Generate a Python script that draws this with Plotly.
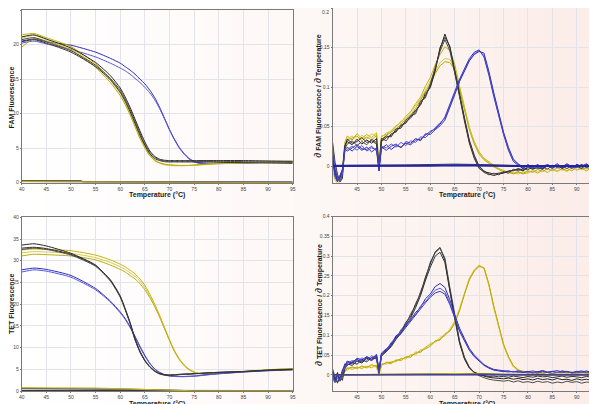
import plotly.graph_objects as go

# ---------------- data ----------------
# melt-curve temperature grid (°C)
T_MELT = [40, 42.5, 45, 50, 55, 58, 60, 61, 62, 63, 64, 65, 66, 67, 68, 69, 70,
          71, 72, 73, 74, 75, 76, 78, 80, 85, 90, 95]

FAM_BLACK = [
    [21.1, 21.4, 20.8, 19.5, 17.4, 15.5, 13.7, 12.4, 10.9, 9.2, 7.5, 5.9, 4.6, 3.8, 3.4, 3.25, 3.2,
     3.2, 3.2, 3.2, 3.2, 3.2, 3.2, 3.2, 3.2, 3.2, 3.15, 3.1],
    [20.7, 21.0, 20.4, 19.1, 17.0, 15.1, 13.4, 12.1, 10.6, 8.9, 7.2, 5.6, 4.4, 3.7, 3.3, 3.15, 3.1,
     3.1, 3.1, 3.1, 3.1, 3.1, 3.1, 3.1, 3.1, 3.05, 3.0, 2.95],
    [20.4, 20.7, 20.2, 18.9, 16.8, 14.9, 13.1, 11.8, 10.3, 8.6, 6.9, 5.4, 4.2, 3.5, 3.2, 3.05, 3.0,
     3.0, 3.0, 3.0, 3.0, 3.0, 3.0, 3.0, 2.95, 2.9, 2.85, 2.8],
]
FAM_YELLOW = [
    [21.4, 21.6, 21.0, 19.7, 17.2, 15.0, 13.1, 11.8, 10.2, 8.5, 6.8, 5.3, 4.1, 3.3, 2.9, 2.7, 2.6,
     2.55, 2.5, 2.5, 2.5, 2.55, 2.6, 2.7, 2.8, 2.9, 2.95, 3.0],
    [20.9, 21.3, 20.7, 19.4, 17.0, 14.8, 12.9, 11.6, 10.0, 8.3, 6.6, 5.1, 3.9, 3.2, 2.8, 2.6, 2.5,
     2.45, 2.45, 2.45, 2.5, 2.5, 2.55, 2.65, 2.75, 2.85, 2.9, 2.95],
    [19.6, 20.9, 20.5, 19.2, 16.7, 14.5, 12.6, 11.3, 9.8, 8.1, 6.4, 5.0, 3.9, 3.2, 2.85, 2.65, 2.55,
     2.5, 2.5, 2.5, 2.5, 2.55, 2.6, 2.7, 2.8, 2.9, 3.0, 3.1],
]
FAM_BLUE = [
    [20.5, 20.8, 20.4, 19.9, 18.9, 18.0, 17.3, 16.8, 16.3, 15.7, 15.0, 14.3, 13.4, 12.3, 10.9, 9.3, 7.7,
     6.3, 5.1, 4.2, 3.5, 3.1, 2.9, 2.8, 2.8, 2.85, 2.95, 3.0],
    [20.2, 20.5, 20.1, 19.3, 18.2, 17.3, 16.6, 16.2, 15.7, 15.1, 14.5, 13.8, 13.0, 12.0, 10.7, 9.2, 7.6,
     6.2, 5.0, 4.1, 3.4, 3.0, 2.8, 2.75, 2.75, 2.85, 2.95, 3.05],
]

TET_BLACK = [
    [33.6, 33.9, 33.4, 31.7, 29.0, 25.5, 21.7, 18.8, 15.6, 11.8, 9.0, 7.0, 5.6, 4.6, 4.0, 3.75, 3.7,
     3.75, 3.85, 3.9, 3.95, 4.0, 4.05, 4.2, 4.3, 4.5, 4.8, 5.0],
    [32.6, 32.9, 32.6, 31.3, 28.7, 25.3, 21.6, 18.7, 15.5, 11.8, 9.0, 6.9, 5.5, 4.5, 3.9, 3.65, 3.6,
     3.65, 3.75, 3.85, 3.9, 3.95, 4.0, 4.15, 4.25, 4.45, 4.75, 4.95],
    [32.9, 33.1, 32.8, 31.5, 28.9, 25.6, 21.9, 19.0, 15.8, 12.1, 9.2, 7.1, 5.6, 4.6, 4.0, 3.7, 3.65,
     3.7, 3.8, 3.85, 3.9, 4.0, 4.05, 4.2, 4.3, 4.5, 4.8, 5.0],
]
TET_YELLOW = [
    [32.5, 32.7, 32.6, 32.3, 31.3, 30.2, 29.2, 28.6, 27.8, 27.0, 25.8, 24.3, 22.3, 20.0, 17.4, 14.6, 11.8,
     9.3, 7.4, 6.0, 5.0, 4.4, 4.05, 3.9, 4.1, 4.5, 4.9, 5.2],
    [31.8, 32.1, 32.0, 31.7, 30.7, 29.6, 28.6, 28.0, 27.2, 26.4, 25.3, 23.8, 21.9, 19.7, 17.2, 14.4, 11.7,
     9.2, 7.3, 5.9, 4.9, 4.3, 4.0, 3.9, 4.05, 4.45, 4.85, 5.15],
    [31.1, 31.5, 31.4, 31.1, 30.2, 29.0, 28.0, 27.4, 26.6, 25.8, 24.7, 23.3, 21.5, 19.4, 17.0, 14.3, 11.6,
     9.1, 7.2, 5.8, 4.85, 4.3, 4.0, 3.9, 4.05, 4.45, 4.85, 5.15],
]
TET_BLUE = [
    [27.9, 28.3, 28.0, 26.6, 23.6, 20.7, 18.2, 16.7, 14.8, 12.6, 10.3, 8.2, 6.4, 5.1, 4.3, 3.8, 3.5,
     3.4, 3.35, 3.35, 3.4, 3.45, 3.55, 3.8, 4.0, 4.4, 4.7, 4.9],
    [27.4, 27.9, 27.6, 26.2, 23.3, 20.5, 18.0, 16.5, 14.6, 12.4, 10.1, 8.0, 6.3, 5.0, 4.2, 3.7, 3.45,
     3.35, 3.3, 3.3, 3.35, 3.4, 3.5, 3.75, 3.95, 4.35, 4.65, 4.85],
]

# negative-control baselines of the melt plots
T_BASE_MELT = [40, 50, 52, 52.5, 55, 60, 65, 70, 75, 95]
FAM_BASE = {
    "black": [0.28, 0.27, 0.26, 0.12, 0.11, 0.1, 0.1, 0.09, 0.08, 0.08],
    "blue": [0.2, 0.18, 0.17, 0.16, 0.15, 0.12, 0.1, 0.08, 0.06, 0.05],
    "yellow": [0.15, 0.14, 0.14, 0.13, 0.12, 0.11, 0.1, 0.1, 0.05, 0.03],
}
TET_BASE = {
    "black": [0.15, 0.15, 0.14, 0.14, 0.12, 0.1, 0.1, 0.1, 0.05, 0.05],
    "blue": [0.6, 0.6, 0.58, 0.58, 0.55, 0.45, 0.3, 0.15, 0.05, 0.05],
    "yellow": [0.7, 0.7, 0.68, 0.68, 0.65, 0.5, 0.35, 0.2, 0.05, 0.05],
}

# derivative temperature grid (°C)
T_DER = [40, 40.5, 41, 41.5, 42, 42.5, 43, 44, 45, 46, 47, 48, 49, 49.5, 50, 51, 52, 53, 54, 55,
         56, 57, 58, 59, 60, 61, 62, 63, 64, 65, 66, 67, 68, 69, 70, 71, 72, 73, 74, 75,
         76, 77, 78, 79, 80, 81, 82, 83, 84, 85, 86, 87, 88, 89, 90, 91, 92, 93, 94, 95]

# derivative values in thousandths (x 1e-3)
DFAM_BLACK = [
    [22, -4, -14, -19, -12, 26, 31, 27, 34, 28, 33, 29, 35, -3, 31, 36, 39, 45, 50, 56, 61, 69, 79, 89, 101,
     122, 148, 167, 150, 121, 88, 57, 29, 10, -3, -7, -9, -10, -9, -8, -7, -5, -4, -6, -2, -4, -1, -3, 0, -2,
     1, -3, 0, -2, 2, -1, 1, -2, 3, 0],
    [12, -10, -18, -15, -8, 22, 28, 32, 26, 31, 27, 34, 30, 0, 35, 32, 41, 43, 52, 54, 64, 66, 82, 86, 104,
     125, 145, 160, 146, 118, 90, 60, 31, 12, -2, -8, -11, -9, -11, -7, -9, -4, -6, -3, -5, 0, -3, -1, -4, 1,
     -2, 0, -3, 1, -1, 2, -2, 0, 1, -1],
    [30, 5, -10, -20, -16, 24, 34, 29, 31, 36, 30, 32, 28, -6, 33, 38, 37, 47, 48, 58, 63, 71, 77, 92, 99,
     120, 150, 163, 152, 124, 92, 61, 33, 14, 0, -6, -10, -12, -10, -9, -6, -6, -3, -5, -1, -3, -2, -4, 1, -1,
     0, -2, 2, -1, 0, -3, 2, -1, 1, 0],
]
DFAM_YELLOW = [
    [10, -8, -16, -12, -5, 30, 38, 33, 41, 35, 40, 36, 42, 2, 38, 40, 45, 51, 55, 63, 69, 79, 87, 101, 112,
     128, 141, 151, 146, 129, 101, 76, 49, 31, 18, 10, 5, 1, -3, -6, -8, -9, -7, -10, -8, -6, -9, -5, -8, -4,
     -7, -3, -6, -2, -5, -3, -6, -2, -4, -3],
    [-5, -18, -22, -20, -10, 28, 35, 38, 33, 39, 34, 41, 37, -1, 36, 42, 44, 49, 57, 60, 68, 76, 85, 96, 108,
     121, 131, 136, 135, 124, 99, 74, 48, 30, 17, 9, 4, 0, -4, -7, -9, -8, -10, -7, -9, -5, -7, -4, -8, -3,
     -6, -4, -7, -2, -5, -1, -4, -3, -5, -2],
    [5, -12, -20, -16, -8, 27, 33, 36, 38, 32, 37, 33, 39, 4, 34, 39, 43, 47, 53, 59, 65, 73, 83, 93, 104,
     117, 127, 132, 131, 122, 97, 72, 46, 28, 15, 8, 3, -1, -4, -8, -7, -10, -8, -9, -6, -8, -4, -7, -3, -6,
     -2, -5, -3, -6, -1, -4, -2, -5, -3, -4],
]
DFAM_BLUE = [
    [15, -8, -18, -14, -6, 20, 24, 19, 25, 20, 24, 18, 23, -4, 22, 27, 21, 26, 24, 29, 27, 33, 34, 39, 44,
     47, 53, 62, 77, 94, 110, 124, 136, 144, 147, 138, 115, 88, 62, 40, 20, 6, 1, -3, 2, -2, 1, -3, 2, -1,
     3, -2, 1, -3, 2, 0, 3, -2, 1, -1],
    [25, 0, -12, -19, -10, 18, 21, 25, 20, 26, 19, 23, 21, -2, 25, 23, 28, 24, 30, 26, 32, 30, 37, 36, 42,
     49, 55, 60, 75, 92, 108, 122, 134, 142, 146, 140, 118, 91, 65, 42, 22, 8, 2, 0, -2, 1, -3, 0, 2, -2,
     1, -1, 2, -2, 0, 1, -2, 2, -1, 0],
    [8, -14, -20, -12, -4, 22, 19, 23, 27, 22, 21, 25, 19, -6, 24, 20, 25, 28, 23, 31, 29, 35, 32, 41, 40,
     46, 51, 58, 73, 90, 107, 121, 133, 141, 145, 143, 120, 93, 66, 43, 24, 9, 3, -2, 1, -1, 2, -2, 0, -3,
     1, -1, 3, -1, -2, 2, -1, 1, -2, 1],
]

DTET_BLACK = [
    [10, -12, 6, -16, 2, 18, 28, 24, 35, 30, 42, 36, 47, 8, 50, 64, 74, 97, 108, 133, 148, 180, 204, 247, 280,
     311, 322, 290, 215, 145, 82, 42, 18, 7, 1, -3, -6, -8, -9, -10, -8, -11, -9, -12, -10, -13, -9, -12, -10, -13,
     -9, -12, -11, -14, -10, -13, -11, -14, -10, -12],
    [-5, -18, -2, -12, -6, 22, 32, 29, 38, 33, 45, 39, 44, 3, 53, 60, 79, 92, 114, 127, 155, 174, 210, 241, 285,
     308, 320, 295, 222, 150, 86, 45, 20, 6, -2, -7, -11, -13, -15, -16, -14, -18, -15, -19, -17, -20, -16, -19, -17, -21,
     -18, -20, -16, -19, -17, -21, -18, -20, -16, -19],
    [0, -8, -20, -6, -14, 15, 25, 31, 27, 38, 33, 44, 40, 5, 47, 58, 71, 90, 105, 124, 144, 170, 200, 238, 272,
     300, 310, 284, 212, 142, 80, 40, 17, 6, 0, -2, -4, -3, -5, -4, -6, -3, -5, -7, -4, -6, -3, -5, -4, -7,
     -5, -3, -6, -4, -5, -7, -4, -6, -3, -5],
]
DTET_YELLOW = [
    [-10, -20, -5, -15, 0, 10, 18, 14, 20, 16, 22, 18, 25, 2, 26, 30, 28, 38, 36, 46, 44, 58, 56, 70, 76,
     84, 90, 100, 112, 132, 165, 205, 242, 264, 276, 270, 228, 172, 120, 76, 45, 22, 12, 8, 6, 4, 7, 3, 6, 2,
     5, 8, 4, 6, 3, 7, 4, 2, 6, 5],
    [-18, -8, -22, -4, 5, 14, 12, 19, 15, 23, 17, 24, 19, -2, 28, 27, 34, 33, 42, 40, 52, 50, 64, 66, 80,
     82, 95, 98, 116, 136, 168, 208, 245, 266, 278, 268, 226, 170, 118, 74, 43, 20, 11, 7, 4, 6, 2, 5, 8, 3,
     6, 1, 5, 7, 2, 6, 3, 5, 1, 4],
    [-2, -14, -18, -10, -3, 8, 16, 20, 17, 21, 19, 26, 21, 4, 24, 32, 31, 36, 40, 44, 48, 54, 60, 68, 72,
     86, 88, 104, 110, 130, 162, 203, 240, 262, 274, 271, 230, 174, 122, 78, 47, 24, 13, 9, 7, 5, 8, 4, 7, 3,
     6, 9, 5, 7, 4, 8, 5, 3, 7, 6],
]
DTET_BLUE = [
    [8, -15, 4, -10, 12, 25, 35, 30, 42, 38, 46, 40, 52, 12, 55, 66, 78, 99, 106, 128, 138, 158, 170, 192, 204,
     223, 231, 221, 190, 152, 118, 92, 67, 50, 38, 26, 19, 14, 12, 10, 9, 8, 10, 6, 9, 5, 8, 11, 7, 9,
     6, 10, 8, 5, 9, 7, 10, 6, 8, 7],
    [-6, -20, -8, -14, 5, 20, 30, 36, 33, 43, 37, 48, 42, 6, 50, 62, 82, 92, 110, 122, 142, 152, 174, 185, 200,
     214, 219, 210, 182, 146, 112, 88, 64, 48, 36, 25, 18, 13, 11, 9, 7, 9, 6, 8, 5, 7, 4, 8, 6, 4,
     7, 5, 8, 4, 6, 5, 7, 4, 6, 5],
    [15, -5, -18, -6, 8, 28, 24, 33, 39, 34, 45, 38, 49, 10, 52, 60, 75, 95, 104, 120, 136, 150, 168, 182, 196,
     207, 211, 204, 178, 143, 110, 86, 62, 46, 34, 24, 17, 12, 10, 8, 10, 7, 9, 6, 8, 10, 7, 9, 6, 8,
     11, 7, 9, 6, 8, 10, 7, 9, 6, 8],
]

# derivative negative-control baselines (x 1e-3)
T_BASE_DER = [40, 45, 50, 55, 60, 65, 70, 75, 80, 90, 95]
DFAM_BASE = {"black": [1, 1, 1, 1.5, 2, 2.5, 2, 1, 0.5, 0.5, 0.5],
             "blue": [0, 0, 0, 0, 0.5, 1, 0.5, 0, 0, 0, 0]}
DTET_BASE = {"black": [0, 0.5, 1, 2, 3, 4, 3, 1, 0.5, 0, 0],
             "yellow": [0, 0, 0.5, 1, 2, 3, 2, 0.5, 0, 0, 0],
             "blue": [0, 0, 0, 0, 0, 0, 0, 0, 0, 0, 0]}

for group in (FAM_BLACK, FAM_YELLOW, FAM_BLUE, TET_BLACK, TET_YELLOW, TET_BLUE):
    for c in group:
        assert len(c) == len(T_MELT), len(c)
for group in (DFAM_BLACK, DFAM_YELLOW, DFAM_BLUE, DTET_BLACK, DTET_YELLOW, DTET_BLUE):
    for c in group:
        assert len(c) == len(T_DER), len(c)

X_TICKS_LEFT = [40, 45, 50, 55, 60, 65, 70, 75, 80, 85, 90, 95]
X_TICKS_RIGHT = [45, 50, 55, 60, 65, 70, 75, 80, 85, 90]
Y_TICKS_FAM = [0, 5, 10, 15, 20, 25]
Y_TICKS_TET = [0, 5, 10, 15, 20, 25, 30, 35, 40]
Y_TICKS_DFAM = [0, 0.05, 0.1, 0.15, 0.2]
Y_LABELS_DFAM = ["0", "0.05", "0.1", "0.15", ""]   # "0.2" drawn as an annotation below
Y_TICKS_DTET = [0, 0.05, 0.1, 0.15, 0.2, 0.25, 0.3, 0.35, 0.4]
Y_LABELS_DTET = ["0", "0.05", "0.1", "0.15", "0.2", "0.25", "0.3", "0.35", "0.4"]

# ---------------- styles ----------------
BLACKS = ["#262626", "#4a4a4a", "#333333"]
YELLOWS = ["#c6b200", "#d6c94a", "#bba90c"]
BLUES = ["#2a2ac2", "#5656d0", "#3a3ab6"]
BASE_COL = {"black": "#3a3a3a", "blue": "#2323a8", "yellow": "#c6b200"}

W, H = 597, 404
OFF = 8  # page body margin: screen pixel = figure pixel + 8
fig = go.Figure()


def add(x, y, col, xa, ya, width=1.0, shape="linear", scale=1.0):
    fig.add_trace(go.Scatter(
        x=x, y=[v * scale for v in y], mode="lines",
        line=dict(color=col, width=width, shape=shape, smoothing=0.6 if shape == "spline" else None),
        xaxis=xa, yaxis=ya, showlegend=False, hoverinfo="skip"))


# top-left FAM melt
for k, v in FAM_BASE.items():
    add(T_BASE_MELT, v, BASE_COL[k], "x", "y", 1.2)
for i, c in enumerate(FAM_BLUE):
    add(T_MELT, c, BLUES[i], "x", "y", 1, "spline")
for i, c in enumerate(FAM_YELLOW):
    add(T_MELT, c, YELLOWS[i], "x", "y", 1, "spline")
for i, c in enumerate(FAM_BLACK):
    add(T_MELT, c, BLACKS[i], "x", "y", 1, "spline")

# top-right FAM derivative
for i, c in enumerate(DFAM_YELLOW):
    add(T_DER, c, YELLOWS[i], "x2", "y2", 1, scale=1e-3)
for i, c in enumerate(DFAM_BLACK):
    add(T_DER, c, BLACKS[i], "x2", "y2", 1, scale=1e-3)
for i, c in enumerate(DFAM_BLUE):
    add(T_DER, c, BLUES[i], "x2", "y2", 1, scale=1e-3)
add(T_BASE_DER, DFAM_BASE["black"], BASE_COL["black"], "x2", "y2", 1, scale=1e-3)
add(T_BASE_DER, DFAM_BASE["blue"], BASE_COL["blue"], "x2", "y2", 2, scale=1e-3)

# bottom-left TET melt
for k, v in TET_BASE.items():
    add(T_BASE_MELT, v, BASE_COL[k], "x3", "y3", 1.2)
for i, c in enumerate(TET_YELLOW):
    add(T_MELT, c, YELLOWS[i], "x3", "y3", 1, "spline")
for i, c in enumerate(TET_BLUE):
    add(T_MELT, c, BLUES[i], "x3", "y3", 1, "spline")
for i, c in enumerate(TET_BLACK):
    add(T_MELT, c, BLACKS[i], "x3", "y3", 1, "spline")

# bottom-right TET derivative
for i, c in enumerate(DTET_YELLOW):
    add(T_DER, c, YELLOWS[i], "x4", "y4", 1, scale=1e-3)
for i, c in enumerate(DTET_BLACK):
    add(T_DER, c, BLACKS[i], "x4", "y4", 1, scale=1e-3)
for i, c in enumerate(DTET_BLUE):
    add(T_DER, c, BLUES[i], "x4", "y4", 1, scale=1e-3)
for k in ("black", "yellow", "blue"):
    add(T_BASE_DER, DTET_BASE[k], BASE_COL[k], "x4", "y4", 1.3, scale=1e-3)

# ---------------- layout ----------------
TICKFONT = dict(family="Liberation Sans", size=5, color="#444444")
GRID = "#e3e3ea"
LINE = "#7a7a7a"


def xax(domain, rng, ticks, anchor):
    return dict(domain=domain, range=rng, tickvals=ticks, ticktext=[str(t) for t in ticks],
                showgrid=True, gridcolor=GRID, gridwidth=1, zeroline=False, automargin=False,
                showline=True, linecolor=LINE, linewidth=1, mirror=True,
                ticks="outside", ticklen=1, tickcolor=LINE, tickfont=TICKFONT, anchor=anchor)


def yax(domain, rng, ticks, labels, anchor):
    return dict(domain=domain, range=rng, tickvals=ticks, ticktext=labels,
                showgrid=True, gridcolor=GRID, gridwidth=1, zeroline=False, automargin=False,
                showline=True, linecolor=LINE, linewidth=1, mirror=True,
                ticks="outside", ticklen=1, tickcolor=LINE, tickfont=TICKFONT, anchor=anchor)


def clamp(v):
    return max(0.0, min(1.0, v))


def px_x(p):
    return clamp((p - OFF) / W)


def px_y(p):
    return clamp(1 - (p - OFF) / H)


XL = [px_x(21.7), px_x(292.7)]
XR = [px_x(332.6), px_x(601.2)]

fig.update_layout(
    width=W, height=H, margin=dict(l=0, r=0, t=0, b=0, autoexpand=False),
    paper_bgcolor="#ffffff", plot_bgcolor="rgba(0,0,0,0)",
    font=dict(family="Liberation Sans", color="#222222"),
    xaxis=xax(XL, [40, 95], X_TICKS_LEFT, "y"),
    yaxis=yax([px_y(182.7), px_y(10)], [0, 25], Y_TICKS_FAM, [str(t) for t in Y_TICKS_FAM], "x"),
    xaxis2=xax(XR, [40, 95], X_TICKS_RIGHT, "y2"),
    yaxis2=yax([px_y(182.7), px_y(8)], [-0.021, 0.2], Y_TICKS_DFAM, Y_LABELS_DFAM, "x2"),
    xaxis3=xax(XL, [40, 95], X_TICKS_LEFT, "y3"),
    yaxis3=yax([px_y(391), px_y(217.3)], [0, 40], Y_TICKS_TET, [str(t) for t in Y_TICKS_TET], "x3"),
    xaxis4=xax(XR, [40, 95], X_TICKS_RIGHT, "y4"),
    yaxis4=yax([px_y(390.7), px_y(216.6)], [-0.04, 0.4], Y_TICKS_DTET, Y_LABELS_DTET, "x4"),
)

# warm background gradient (style only)
N = 48
c0 = (255, 255, 255)
c1 = (251, 236, 231)
shapes = []
for i in range(N):
    t = ((i + 0.5) / N) ** 1.3
    col = "rgb(%d,%d,%d)" % tuple(round(a + (b - a) * t) for a, b in zip(c0, c1))
    shapes.append(dict(type="rect", xref="paper", yref="paper", x0=i / N, x1=min(1, (i + 1) / N + 0.002),
                       y0=0, y1=1, fillcolor=col, line=dict(width=0), layer="below"))
fig.update_layout(shapes=shapes)

TITLE_FONT = dict(family="Liberation Sans", size=7, color="#1a1a1a")
D = '<span style="font-size:10px"><i>∂</i></span>'
ann = [
    dict(text="<b>Temperature (°C)</b>", x=px_x(157.2), y=px_y(195)),
    dict(text="<b>Temperature (°C)</b>", x=px_x(467), y=px_y(195)),
    dict(text="<b>Temperature (°C)</b>", x=px_x(157.2), y=px_y(403.5)),
    dict(text="<b>Temperature (°C)</b>", x=px_x(467), y=px_y(403.5)),
    dict(text="<b>FAM Fluorescence</b>", x=px_x(11), y=px_y(97.5), textangle=-90),
    dict(text="<b>TET Fluorescence</b>", x=px_x(11), y=px_y(304), textangle=-90),
    dict(text=D + "<b> FAM Fluorescence / </b>" + D + "<b> Temperature</b>",
         x=px_x(318), y=px_y(96.7), textangle=-90),
    dict(text=D + "<b> TET Fluorescence / </b>" + D + "<b> Temperature</b>",
         x=px_x(318), y=px_y(305), textangle=-90),
]
for a in ann:
    a.update(xref="paper", yref="paper", showarrow=False, font=TITLE_FONT,
             xanchor="center", yanchor="middle")
# top tick label of the FAM derivative axis, kept fully inside the page
ann.append(dict(text=Y_LABELS_DTET[4], xref="paper", yref="paper", x=px_x(330.5), y=1.0,
                xanchor="right", yanchor="top", showarrow=False, font=TICKFONT,
                borderpad=0))
fig.update_layout(annotations=ann)

fig.write_html("out.html")
